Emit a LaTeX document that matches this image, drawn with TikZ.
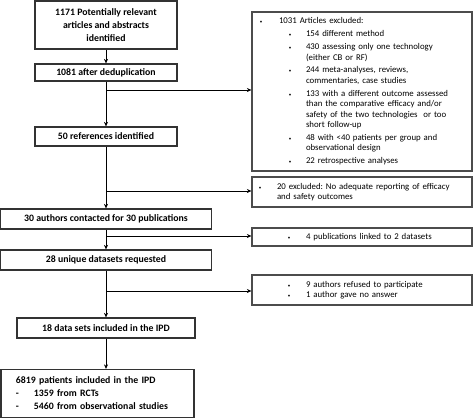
\documentclass[tikz,border=0pt]{standalone}
\usepackage{fontspec}
\setmainfont{Carlito}
\usetikzlibrary{arrows.meta}
\frenchspacing
% bullet at #1, text from #2 (pt from the box's left edge)
\newcommand{\bitem}[3]{\hspace*{#1pt}\makebox[0pt]{\tiny\textbullet}\hspace*{\dimexpr#2pt-#1pt\relax}#3}
\newcommand{\bcont}[2]{\hspace*{#1pt}#2}

\begin{document}
\begin{tikzpicture}[x=1pt,y=-1pt,>={Stealth[length=4.5pt,width=4pt]},
  mainbox/.style={draw=black!80,line width=1.2pt,inner sep=0pt,align=center,
    font=\fontsize{9.8}{13}\selectfont\bfseries},
  sidebox/.style={draw=black!70,line width=1.2pt,inner sep=0pt,minimum width=220pt,
    text width=220pt,align=left,font=\fontsize{8.8}{10.5}\selectfont},
  flow/.style={->,line width=0.9pt}]
\useasboundingbox (0,0) rectangle (474,418);

% main column
\node[mainbox,minimum width=142pt,minimum height=48pt] (ident) at (106,25)
  {1171 Potentially relevant\\articles and abstracts\\identified};
\node[mainbox,minimum width=142pt,minimum height=17pt] (dedup) at (106,72.5) {1081 after deduplication};
\node[mainbox,minimum width=142pt,minimum height=19pt] (refs) at (106,136.5) {50 references identified};
\node[mainbox,minimum width=211pt,minimum height=20pt] (contact) at (106,219) {30 authors contacted for 30 publications};
\node[mainbox,minimum width=211pt,minimum height=20pt] (unique) at (106,260) {28 unique datasets requested};
\node[mainbox,minimum width=178pt,minimum height=20pt] (incl) at (106,328) {18 data sets included in the IPD};
\node[mainbox,align=left,text width=193pt,minimum height=48pt] (pts) at (97.5,393.5)
  {\hspace*{15pt}6819 patients included in the IPD\\
   \hspace*{15pt}\makebox[18pt][l]{-}1359 from RCTs\\
   \hspace*{15pt}\makebox[18pt][l]{-}5460 from observational studies};

% exclusion boxes
\node[sidebox,minimum height=159pt] (excl) at (362,91.5)
  {\bitem{9}{27}{1031 Articles excluded:}\\[2.3pt]
   \bitem{38}{54}{154 different method}\\[2.3pt]
   \bitem{38}{54}{430 assessing only one technology}\\
   \bcont{54}{(either CB or RF)}\\[2.3pt]
   \bitem{38}{54}{244 meta-analyses, reviews,}\\
   \bcont{54}{commentaries, case studies}\\[2.3pt]
   \bitem{38}{54}{133 with a different outcome assessed}\\
   \bcont{54}{than the comparative efficacy and/or}\\
   \bcont{54}{safety of the two technologies\ \ or too}\\
   \bcont{54}{short follow-up}\\[2.3pt]
   \bitem{38}{54}{48 with <40 patients per group and}\\
   \bcont{54}{observational design}\\[2.3pt]
   \bitem{38}{54}{22 retrospective analyses}};
\node[sidebox,minimum height=30pt] (report) at (362,192)
  {\bitem{8}{25}{20 excluded: No adequate reporting of efficacy}\\
   \bcont{25}{and safety outcomes}};
\node[sidebox,minimum height=18pt] (linked) at (362,237)
  {\bitem{37}{54}{4 publications linked to 2 datasets}};
\node[sidebox,minimum height=30pt] (refused) at (362,290)
  {\bitem{37}{54}{9 authors refused to participate}\\
   \bitem{37}{54}{1 author gave no answer}};

% trunk
\draw[flow] (ident) -- (dedup);
\draw[flow] (dedup) -- (refs);
\draw[flow] (refs) -- (contact);
\draw[flow] (contact) -- (unique);
\draw[flow] (unique) -- (incl);
\draw[flow] (incl.south) -- (incl.south |- pts.north);

% branches
\coordinate (b1) at (106,90);
\coordinate (b2) at (106,191);
\coordinate (b3) at (106,236);
\coordinate (b4) at (106,291);
\draw[flow] (b1) -- (b1 -| excl.west);
\draw[flow] (b2) -- (b2 -| report.west);
\draw[flow] (b3) -- (b3 -| linked.west);
\draw[flow] (b4) -- (b4 -| refused.west);
\end{tikzpicture}
\end{document}
